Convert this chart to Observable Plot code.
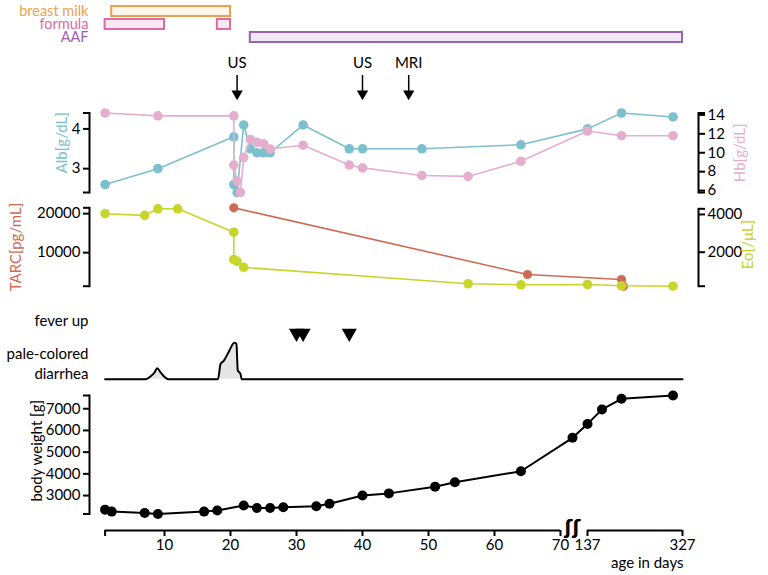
<!DOCTYPE html>
<html><head><meta charset="utf-8">
<script src="https://cdn.jsdelivr.net/npm/d3@7"></script>
<script src="https://cdn.jsdelivr.net/npm/@observablehq/plot@0.6"></script>
<style>
body{margin:0;background:#fff;}
#chart{position:relative;width:768px;height:575px;font-family:Lato,sans-serif;}
#chart svg{position:absolute;left:0;top:0;}
</style></head><body><div id="chart"></div>
<script>
// ---------- data ----------
const dietItems = ["breast milk", "formula", "AAF"];
const dietColors = ["#eba24f", "#de6aa8", "#9b62ad"];
const dietFills = ["#fdf4ea", "#fbe8f2", "#f0e8f4"];
const dietPeriodItem = ["breast milk", "formula", "formula", "AAF"];
const dietStart = [2, 1, 18, 23];
const dietEnd = [20, 10, 20, 327];

const examDays = [21, 40, 47];
const examLabels = ["US", "US", "MRI"];

const albDays = [1, 9, 20.5, 20.5, 21, 22, 23, 24, 25, 26, 31, 38, 40, 49, 64, 137, 205, 308];
const albValues = [2.6, 3.0, 3.8, 2.6, 2.4, 4.1, 3.5, 3.4, 3.4, 3.4, 4.1, 3.5, 3.5, 3.5, 3.6, 4.0, 4.4, 4.3];

const hbDays = [1, 9, 20.5, 20.5, 21, 21.5, 22, 23, 24, 25, 26, 31, 38, 40, 49, 56, 64, 137, 205, 308];
const hbValues = [14.2, 13.9, 13.9, 8.7, 7.0, 5.8, 9.5, 11.4, 11.1, 10.95, 10.4, 10.8, 8.7, 8.4, 7.6, 7.5, 9.1, 12.3, 11.8, 11.8];

const tarcDays = [20.5, 65, 205, 209];
const tarcValues = [21500, 4400, 3100, 1400];

const eoDays = [1, 7, 9, 12, 20.5, 20.5, 21, 22, 56, 64, 137, 205, 308];
const eoValues = [4040, 3950, 4300, 4300, 3060, 1610, 1520, 1200, 330, 275, 290, 220, 200];

const feverDays = [30, 31, 38];

const diarrheaDays = [1, 7.1, 7.9, 8.5, 8.9, 9.4, 9.9, 10.6, 18.1, 18.5, 19.0, 19.7, 20.6, 20.9, 21.1, 21.5, 21.7, 327];
const diarrheaValues = [0, 0, 0.8, 1.9, 3.0, 1.9, 0.8, 0, 0, 4.2, 5.1, 7.4, 10, 9.7, 2.4, 1.5, 0, 0];

const weightDays = [1, 2, 7, 9, 16, 18, 22, 24, 26, 28, 33, 35, 40, 44, 51, 54, 64, 107, 137, 166, 205, 308];
const weightValues = [2350, 2260, 2200, 2150, 2260, 2310, 2540, 2430, 2430, 2460, 2510, 2620, 3000, 3100, 3410, 3610, 4120, 5660, 6300, 6970, 7460, 7610];

const xTicks = [1, 10, 20, 30, 40, 50, 60, 70, 137, 327];
const albTicks = [3, 4];
const hbTicks = [6, 8, 10, 12, 14];
const tarcTicks = [10000, 20000];
const eoTicks = [2000, 4000];
const weightTicks = [3000, 4000, 5000, 6000, 7000];
const axisSegStart = [1, 137];
const axisSegEnd = [70, 327];
const axisBreakDay = 107;

// ---------- colors ----------
const teal = "#7dc0cd", pink = "#e4afcf", red = "#cf6b55", lime = "#c8d52b";

// ---------- build tables ----------
const zip = (xs, ys) => xs.map((d, i) => ({day: d, v: ys[i]}));
const alb = zip(albDays, albValues), hb = zip(hbDays, hbValues);
const tarc = zip(tarcDays, tarcValues), eo = zip(eoDays, eoValues);
const diar = zip(diarrheaDays, diarrheaValues), weight = zip(weightDays, weightValues);
const diet = dietStart.map((s, i) => ({item: dietPeriodItem[i], start: s, end: dietEnd[i]}));
const colorOf = Object.fromEntries(dietItems.map((d, i) => [d, dietColors[i]]));
const fillOf = Object.fromEntries(dietItems.map((d, i) => [d, dietFills[i]]));
const exams = examDays.map((d, i) => ({day: d, label: examLabels[i]}));
const segs = axisSegStart.map((s, i) => ({from: s, to: axisSegEnd[i]}));

const W = 768, H = 575;
const xOpts = {type: "linear", domain: [1, 70, 100, 327], range: [104.6, 560, 568.5, 682], axis: null};
function panel(top, bottom, opts) {
  return Plot.plot({
    width: W, height: H, marginLeft: 89, marginRight: 70, marginTop: top, marginBottom: H - bottom,
    x: xOpts,
    style: {background: "transparent", fontFamily: "Lato, sans-serif", fontSize: "15px", overflow: "visible"},
    ...opts
  });
}
const fmt = d => String(d);
function sideAxis(anchor, ext, labeled) {
  return [
    Plot.frame({anchor, strokeWidth: 2}),
    Plot.axisY({anchor, ticks: [ext[0], ...labeled, ext[1]], tickFormat: d => labeled.includes(d) ? fmt(d) : "",
      tickSize: 6, tickPadding: 3, strokeWidth: 2, label: null})
  ];
}
function series(data, color, r) {
  return [
    Plot.line(data, {x: "day", y: "v", stroke: color, strokeWidth: 1.6}),
    Plot.dot(data, {x: "day", y: "v", fill: color, r})
  ];
}
const vlabel = (text, anchor, dx, dy, color) =>
  Plot.text([text], {frameAnchor: anchor, dx, dy, rotate: -90, fill: color, textAnchor: "middle"});

const albExt = d3.extent(albValues), hbExt = d3.extent(hbValues);
const tarcExt = d3.extent(tarcValues), eoExt = d3.extent(eoValues), wExt = d3.extent(weightValues);

const charts = [
  // diet bars
  panel(3, 45, {
    y: {type: "band", domain: dietItems, padding: 0.23, axis: null},
    color: {type: "identity"},
    marks: [
      Plot.barX(diet, {x1: "start", x2: "end", y: "item", fill: d => fillOf[d.item], stroke: d => colorOf[d.item], strokeWidth: 2}),
      Plot.text(dietItems, {y: d => d, frameAnchor: "left", textAnchor: "end", dx: -1, fontSize: 14.5, fill: d => colorOf[d]})
    ]
  }),
  // exam arrows
  panel(50, 100, {
    marks: [
      Plot.text(exams, {x: "day", text: "label", frameAnchor: "top", lineAnchor: "middle", dy: 13}),
      Plot.ruleX(exams, {x: "day", insetTop: 25, insetBottom: 8, strokeWidth: 1.5}),
      Plot.dot(exams, {x: "day", frameAnchor: "bottom", dy: -6.7, symbol: "triangle", rotate: 180, r: 4.2, fill: "black"})
    ]
  }),
  // Alb
  panel(112.5, 192, {
    y: {domain: albExt, axis: null},
    marks: [...sideAxis("left", albExt, albTicks), ...series(alb, teal, 4.8), vlabel("Alb[g/dL]", "left", -27, -10, teal)]
  }),
  // Hb
  panel(112.5, 192, {
    y: {domain: hbExt, axis: null},
    marks: [...sideAxis("right", hbExt, hbTicks), ...series(hb, pink, 4.8), vlabel("Hb[g/dL]", "right", 42, 0, pink)]
  }),
  // TARC
  panel(207.3, 285.7, {
    y: {domain: tarcExt, axis: null},
    marks: [...sideAxis("left", tarcExt, tarcTicks), ...series(tarc, red, 4.6), vlabel("TARC[pg/mL]", "left", -73, 0, red)]
  }),
  // Eo
  panel(208.3, 285.7, {
    y: {domain: eoExt, axis: null},
    marks: [...sideAxis("right", eoExt, eoTicks), ...series(eo, lime, 4.8), vlabel("Eo[/μL]", "right", 50, -3, lime)]
  }),
  // fever
  panel(326, 339.4, {
    marks: [
      Plot.dot(feverDays, {x: d => d, symbol: "triangle", rotate: 180, r: 5.6, fill: "black"}),
      Plot.text(["fever up"], {frameAnchor: "left", textAnchor: "end", dx: -1, dy: -12})
    ]
  }),
  // diarrhea
  panel(342.3, 378.7, {
    y: {domain: [0, 10], axis: null},
    marks: [
      Plot.areaY(diar, {x: "day", y: "v", fill: "#e6e6e6", curve: "monotone-x"}),
      Plot.lineY(diar, {x: "day", y: "v", stroke: "black", strokeWidth: 2, curve: "monotone-x"}),
      Plot.text(["pale-colored\ndiarrhea"], {frameAnchor: "left", textAnchor: "end", dx: -1, dy: 1.5, lineHeight: 1.33})
    ]
  }),
  // weight
  panel(395, 513.5, {
    y: {domain: wExt, axis: null},
    marks: [...sideAxis("left", wExt, weightTicks),
      Plot.line(weight, {x: "day", y: "v", stroke: "black", strokeWidth: 2}),
      Plot.dot(weight, {x: "day", y: "v", fill: "black", r: 5}),
      vlabel("body weight [g]", "left", -52, -4, "black")]
  }),
  // x axis
  panel(520, 530, {
    y: {domain: [0, 1], axis: null},
    marks: [
      Plot.ruleY(segs, {x1: "from", x2: "to", y: 0, strokeWidth: 2}),
      Plot.axisX({ticks: xTicks, tickFormat: d => d === 1 ? "" : String(d), tickSize: 6, tickPadding: 3, strokeWidth: 2, label: null}),
      Plot.text(["ʃʃ"], {x: axisBreakDay, frameAnchor: "bottom", lineAnchor: "middle", dy: -3, fontSize: 19, fontWeight: "bold", fontFamily: "DejaVu Sans"}),
      Plot.text(["age in days"], {x: 327, frameAnchor: "bottom", lineAnchor: "middle", textAnchor: "end", dx: 1, dy: 33})
    ]
  })
];
const root = document.getElementById("chart");
for (const c of charts) root.appendChild(c);
</script></body></html>
